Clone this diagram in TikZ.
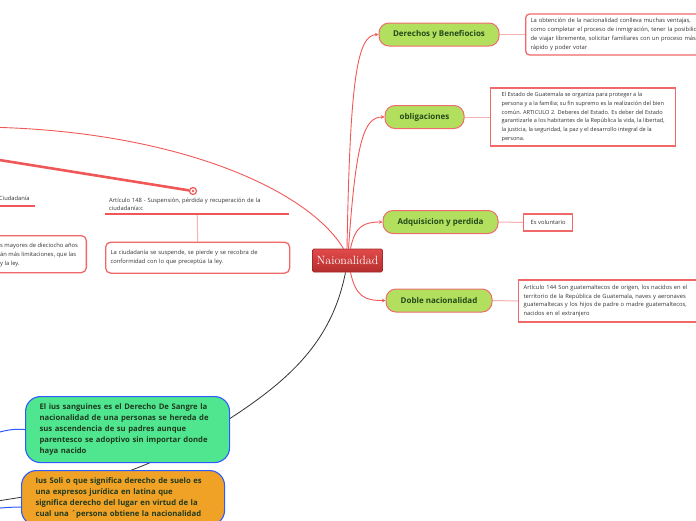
\documentclass[tikz,border=0pt]{standalone}
\usepackage{fontspec}
\newfontfamily\osans{Open Sans}
\usetikzlibrary{arrows.meta}
\definecolor{redline}{HTML}{F05858}
\definecolor{pinkline}{HTML}{F5B2B2}
\definecolor{boxred}{HTML}{F06868}
\definecolor{topicfill}{HTML}{B3DF5E}
\definecolor{topicborder}{HTML}{EE6C6C}
\definecolor{topictext}{HTML}{234A1A}
\definecolor{centtop}{HTML}{E24A4A}
\definecolor{centbot}{HTML}{B52E2E}
\definecolor{centborder}{HTML}{A52828}
\definecolor{mint}{HTML}{50E68F}
\definecolor{orangefill}{HTML}{F0A226}
\definecolor{blueborder}{HTML}{2E5BFF}
\definecolor{darktext}{HTML}{1F3A1F}
\definecolor{desctext}{HTML}{333333}
\pgfdeclarelayer{bg}
\pgfsetlayers{bg,main}
\begin{document}
\begin{tikzpicture}[x=1pt,y=-1pt,
  central/.style={draw=centborder,line width=0.8pt,top color=centtop,bottom color=centbot,
    minimum width=70pt,minimum height=23pt,inner sep=0pt,rounded corners=1.5pt,
    text=white,font=\fontsize{12}{14}\selectfont},
  topic/.style={draw=topicborder,line width=1pt,fill=topicfill,rounded corners=10pt,
    minimum height=23pt,inner sep=0pt,text=topictext,font=\osans\bfseries\fontsize{8}{9}\selectfont},
  descbox/.style={draw=boxred,line width=1.3pt,fill=white,inner xsep=5pt,inner ysep=3pt,
    align=left,text=desctext,font=\osans\fontsize{5.8}{8.7}\selectfont},
  desctxt/.style={inner sep=0pt,align=left,text=desctext,font=\osans\fontsize{5.8}{8.7}\selectfont},
  bigbox/.style={draw=blueborder,line width=1.1pt,rounded corners=15pt,inner xsep=14pt,
    align=left,text=darktext,font=\osans\bfseries\fontsize{7.7}{11}\selectfont},
  conn/.style={draw=redline,line width=0.9pt},
  tipconn/.style={conn,-{Stealth[length=3.5pt,width=3.5pt]}},
  soft/.style={draw=pinkline,line width=1pt},
  uline/.style={draw=redline,line width=1.4pt},
]
\useasboundingbox (0,0) rectangle (696,520);

% central and topics
\node[central] (c) at (347.5,260.5) {Naionalidad};
\node[topic,minimum width=120pt] (d) at (439,34.5) {Derechos y Benefiocios};
\node[topic,minimum width=79pt] (o) at (424.5,117) {obligaciones};
\node[topic,minimum width=115pt] (a) at (440.5,222) {Adquisicion y perdida};
\node[topic,minimum width=106pt] (b) at (439,300.5) {Doble nacionalidad};

% description boxes
\node[descbox,rounded corners=4pt,anchor=west,text width=200pt,minimum height=41pt] (dd) at (525,34.5)
 {La obtención de la nacionalidad conlleva muchas ventajas,\\como completar el proceso de inmigración, tener la posibilidad\\de viajar libremente, solicitar familiares con un proceso más\\rápido y poder votar};
\node[descbox,anchor=west,minimum width=185pt,minimum height=58pt,font=\osans\fontsize{5.6}{8.7}\selectfont] (od) at (490,117)
 {El Estado de Guatemala se organiza para proteger a la\\persona y a la familia; su fin supremo es la realización del bien\\común. ARTICULO 2. Deberes del Estado. Es deber del Estado\\garantizarle a los habitantes de la República la vida, la libertad,\\la justicia, la seguridad, la paz y el desarrollo integral de la\\persona.};
\node[descbox,anchor=west,minimum width=49pt,minimum height=17pt,inner xsep=5pt] (ad) at (523,222.5) {Es voluntario};
\node[descbox,anchor=west,text width=190pt,minimum height=42pt] (bd) at (518,301)
 {Artículo 144 Son guatemaltecos de origen, los nacidos en el\\territorio de la República de Guatemala, naves y aeronaves\\guatemaltecas y los hijos de padre o madre guatemaltecos,\\nacidos en el extranjero};

% left part: ciudadania
\node[desctxt,anchor=base west] (cz) at (-1,200) {Ciudadanía};
\node[desctxt,anchor=south west,inner xsep=4pt,inner ysep=3pt,text width=176pt,minimum width=184pt] (art) at (105,214)
 {Artículo 148 - Suspensión, pérdida y recuperación de la\\ciudadanía:c};
\node[descbox,rounded corners=5pt,anchor=north west,text width=174pt,minimum height=31pt] (ciu) at (105,241.5)
 {La ciudadanía se suspende, se pierde y se recobra de\\conformidad con lo que preceptúa la ley.};
\node[draw=boxred,line width=1.3pt,fill=white,rounded corners=5pt,anchor=north east,
  minimum width=150pt,minimum height=37pt] (lfbox) at (87,235) {};
\node[desctxt,anchor=north west] (lftext) at (0,243)
 {s mayores de dieciocho años\\án más limitaciones, que las\\y la ley.};
\node[circle,draw=redline,fill=white,line width=1.2pt,minimum size=7pt,inner sep=0pt] (cm) at (193,191) {};
\fill[redline] (cm.center) circle (1.3pt);

% bottom-left boxes
\node[bigbox,fill=mint,anchor=north west,text width=176pt,minimum height=66pt,inner ysep=3pt] (sang) at (25,396)
 {El ius sanguines es el Derecho De Sangre la\\nacionalidad de una personas se hereda de\\sus ascendencia de su padres aunque\\parentesco se adoptivo sin importar donde\\haya nacido};
\node[bigbox,fill=orangefill,anchor=north west,text width=175pt,inner ysep=7pt] (soli) at (21,470)
 {Ius Soli o que significa derecho de suelo es\\una expresos jurídica en latina que\\significa derecho del lugar en virtud de la\\cual una ´persona obtiene la nacionalidad};

% offscreen end points
\coordinate (tl0) at (-40,127);
\coordinate (thk0) at (-10,158.5);
\coordinate (bl0) at (-30,505);
\coordinate (bu0) at (-40,450);
\coordinate (bu1) at (-40,512);
\coordinate (soliin) at (22,507);

\begin{pgfonlayer}{bg}
\fill[white] (0,0) rectangle (696,520);
\draw[tipconn] ([xshift=-0.5pt]c.north) .. controls (350,80) and (357,35) .. (d.west);
\draw[tipconn] ([xshift=1pt]c.north) .. controls (356,140) and (364,117) .. (o.west);
\draw[tipconn] ([xshift=3pt]c.north) .. controls (355,226) and (364,222) .. (a.west);
\draw[tipconn] ([xshift=3pt]c.south) .. controls (356,298) and (366,300.5) .. (b.west);
\draw[conn] ([xshift=-4pt]c.north) .. controls (305,185) and (160,125) .. (tl0);
\draw[draw=redline,line width=2.6pt] (thk0) -- (cm);
\draw[draw=black!80,line width=0.8pt] ([xshift=-2pt]c.south) .. controls (330,350) and (280,390) .. (190,443)
  .. controls (120,482) and (60,492) .. (bl0);
\draw[draw=blueborder,line width=1pt] (bu0) .. controls (-10,432) and (10,428) .. (sang.west);
\draw[draw=blueborder,line width=1pt] (bu1) .. controls (-10,509) and (5,507) .. (soliin);
\draw[soft] (d.east) -- (dd.west);
\draw[soft] (o.east) -- (od.west);
\draw[soft] (a.east) -- (ad.west);
\draw[soft] (b.east) -- (bd.west);
\draw[soft] (art.south) -- (ciu.north);
\end{pgfonlayer}
\draw[uline] (art.south west) -- (art.south east);
\draw[uline] (-2,206) -- (35,206);
\end{tikzpicture}
\end{document}
